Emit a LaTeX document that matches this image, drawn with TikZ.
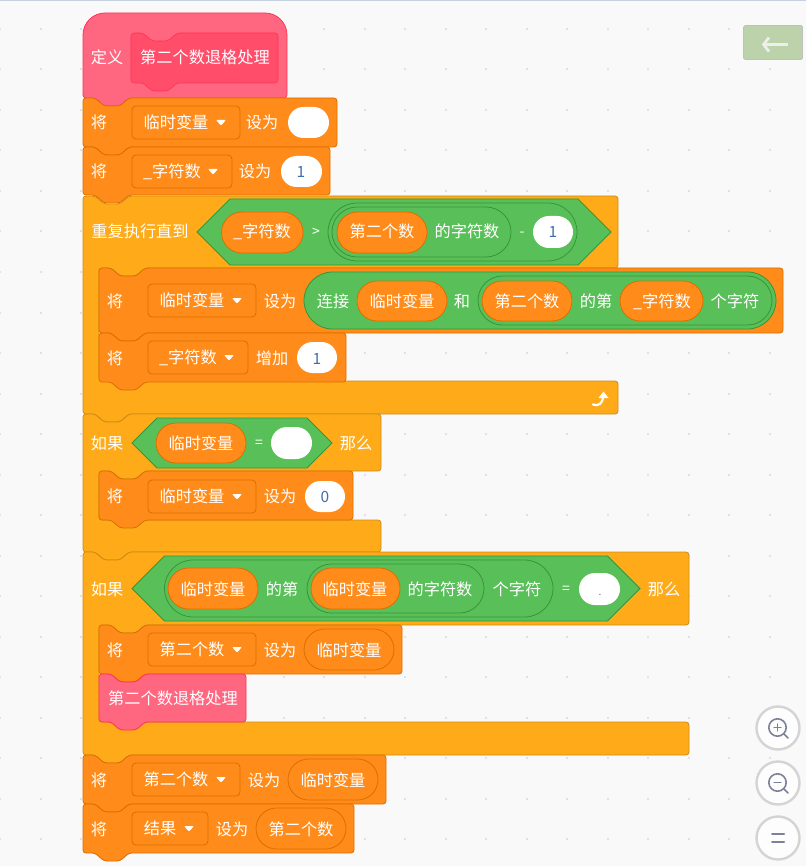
\documentclass[tikz,border=0pt]{standalone}
\usepackage{fontspec}
\setmainfont{Noto Sans CJK SC}
\definecolor{bg}{HTML}{F9F9F9}
\definecolor{gridc}{HTML}{E2E2E2}
\definecolor{topc}{HTML}{C6D2E2}
\definecolor{looksf}{HTML}{FF8C1A}
\definecolor{looksd}{HTML}{DB6E00}
\definecolor{ctrlf}{HTML}{FFAB19}
\definecolor{ctrld}{HTML}{CF8B17}
\definecolor{oprf}{HTML}{59C059}
\definecolor{oprd}{HTML}{389438}
\definecolor{pinkf}{HTML}{FF6680}
\definecolor{pinkd}{HTML}{FF3355}
\definecolor{pinki}{HTML}{FF4D6A}
\definecolor{numc}{HTML}{3F6FA8}
\definecolor{iconc}{HTML}{7C8098}
\definecolor{backf}{HTML}{BBD2AB}
\definecolor{backa}{HTML}{EDEFEA}
\newcounter{nn}
\tikzset{
  x=1pt,y=-1pt,
  lbl/.style={text=white,font=\fontsize{16.2}{17}\selectfont,inner sep=0pt,text height=14pt,text depth=2pt,anchor=center},
  numl/.style={lbl,text=numc,font=\fontsize{15.5}{16}\selectfont},
  oplbl/.style={lbl,font=\fontsize{14}{16}\selectfont,text height=11pt,text depth=2pt},
  varb/.style={fill=looksf,draw=looksd,line width=.8pt},
  setb/.style={fill=looksf,draw=looksd,line width=.8pt},
  ctrlb/.style={fill=ctrlf,draw=ctrld,line width=.8pt},
  oprb/.style={fill=oprf,draw=oprd,line width=.8pt},
  pinkb/.style={fill=pinkf,draw=pinkd,line width=.8pt},
  pinkin/.style={fill=pinki,draw=pinkd,line width=.6pt},
  ddb/.style={fill=looksf,draw=looksd,line width=.8pt,rounded corners=4pt},
  inb/.style={fill=white,draw=none},
  zoomb/.style={fill=white!60!bg,draw=black!17,line width=2.4pt},
  zicon/.style={draw=iconc,line width=1.6pt,line cap=round},
}
\newcommand\lb[3]{\node[lbl] (l\arabic{nn}) at (#1,#2) {#3};\stepcounter{nn}}
\newcommand\oplb[3]{\node[oplbl] (l\arabic{nn}) at (#1,#2) {#3};\stepcounter{nn}}
\newcommand\nm[3]{\node[numl] (l\arabic{nn}) at (#1,#2) {#3};\stepcounter{nn}}
% stack block: style x1 y1 x2 y2
\newcommand\stk[5]{\draw[#1,rounded corners=3pt]
  (#2,#3) -- ({#2+12},#3) -- ({#2+21},{#3+8}) -- ({#2+37},{#3+8}) -- ({#2+46},#3) -- (#4,#3)
  -- (#4,#5) -- ({#2+46},#5) -- ({#2+37},{#5+8}) -- ({#2+21},{#5+8}) -- ({#2+12},#5) -- (#2,#5) -- cycle;}
% C block: style x1 y1 x2 y2 y3 x3 y4
\newcommand\cblk[8]{\draw[#1,rounded corners=3pt]
  (#2,#3) -- ({#2+12},#3) -- ({#2+21},{#3+8}) -- ({#2+37},{#3+8}) -- ({#2+46},#3) -- (#4,#3)
  -- (#4,#5) -- ({#2+62},#5) -- ({#2+53},{#5+8}) -- ({#2+37},{#5+8}) -- ({#2+28},#5) -- ({#2+16},#5)
  -- ({#2+16},#6) -- (#7,#6) -- (#7,#8) -- ({#2+46},#8) -- ({#2+37},{#8+8}) -- ({#2+21},{#8+8}) -- ({#2+12},#8) -- (#2,#8) -- cycle;}
% pill: style x1 y1 x2 y2
\newcommand\pill[5]{\pgfmathsetmacro\rr{(#5-#3)/2}\draw[#1,rounded corners=\rr pt] (#2,#3) rectangle (#4,#5);}
% hexagon: x1 y1 x2 y2
\newcommand\hexa[4]{\pgfmathsetmacro\hw{(#4-#2)/2}\draw[oprb,line join=miter]
  (#1,{(#2+#4)/2}) -- ({#1+\hw},#2) -- ({#3-\hw},#2) -- (#3,{(#2+#4)/2}) -- ({#3-\hw},#4) -- ({#1+\hw},#4) -- cycle;}
% dropdown: x1 y1 x2 text textx caretx
\newcommand\dd[6]{\draw[ddb] (#1,#2) rectangle (#3,{#2+33});\lb{#5}{{#2+16.5}}{#4}
  \fill[white,rounded corners=1pt] ({#6-5},{#2+14}) -- ({#6+5},{#2+14}) -- (#6,{#2+19.5}) -- cycle;}
\begin{document}
\begin{tikzpicture}
\useasboundingbox (0,0) rectangle (806,866);
\fill[bg] (0,0) rectangle (806,866);
\fill[topc] (0,0) rectangle (806,1.2);
\foreach \i in {0,...,19}{\foreach \j in {0,...,20}{
  \fill[gridc] ({\i*40.5-1},{29+\j*40.5-1}) rectangle ({\i*40.5+1},{29+\j*40.5+1});}}
% hat
\draw[pinkb] (83,98) [rounded corners=22pt] -- (83,13) -- (287,13) [rounded corners=3pt] -- (287,98)
  -- (129,98) -- (120,106) -- (104,106) -- (95,98) -- (83,98) -- cycle;
\stk{pinkin}{131}{33}{278}{83}
\lb{107}{58}{定义}
\lb{205}{58}{第二个数退格处理}
% set 1
\stk{setb}{83}{98}{337}{147}
\lb{99}{123}{将}
\dd{132}{106}{240}{临时变量}{176}{221}
\lb{262}{123}{设为}
\pill{inb}{288}{107}{329}{138}
% set 2
\stk{setb}{83}{147}{330}{195}
\lb{99}{172}{将}
\dd{132}{155}{232}{\_字符数}{172}{213}
\lb{255}{172}{设为}
\pill{inb}{281}{156}{322}{187}
\nm{301}{172}{1}
% repeat until
\cblk{ctrlb}{83}{196}{618}{268}{381}{618}{414}
\lb{140}{232}{重复执行直到}
\hexa{197}{199}{611}{265}
\pill{varb}{221.5}{212}{303}{253}
\lb{262}{232}{\_字符数}
\oplb{316}{232}{>}
\pill{oprb}{328}{203}{577}{261}
\pill{oprb}{332}{207}{511}{257}
\pill{varb}{337}{212}{427}{253}
\lb{382}{232}{第二个数}
\lb{467}{232}{的字符数}
\oplb{522}{232}{-}
\pill{inb}{533}{216}{573}{248}
\nm{553}{232}{1}
% set inside
\stk{setb}{99}{268}{783}{333}
\lb{115}{301}{将}
\dd{148}{284}{256}{临时变量}{192}{237}
\lb{280}{301}{设为}
\pill{oprb}{304}{272}{776}{329}
\lb{333}{301}{连接}
\pill{varb}{357}{281}{447}{321}
\lb{402}{301}{临时变量}
\lb{462}{301}{和}
\pill{oprb}{478}{276}{772}{325}
\pill{varb}{482}{281}{572}{321}
\lb{527}{301}{第二个数}
\lb{596}{301}{的第}
\pill{varb}{620}{281}{703}{321}
\lb{662}{301}{\_字符数}
\lb{735}{301}{个字符}
% change
\stk{setb}{99}{333}{346}{382}
\lb{115}{358}{将}
\dd{148}{341}{248}{\_字符数}{188}{229}
\lb{272}{358}{增加}
\pill{inb}{297}{342}{337}{373}
\nm{317}{358}{1}
\draw[white,line width=2.2pt,line cap=round] (593,404.5) .. controls (598,406.5) and (603,404) .. (603,396);
\fill[white] (598.5,398) -- (603.5,391.5) -- (608.5,398) -- cycle;
% if 1
\cblk{ctrlb}{83}{414}{381}{471}{520}{381}{552}
\lb{107}{443}{如果}
\hexa{132}{418}{332}{468}
\pill{varb}{156}{423}{246}{463}
\lb{201}{443}{临时变量}
\oplb{259}{443}{=}
\pill{inb}{271}{427}{312}{459}
\lb{356}{443}{那么}
\stk{setb}{99}{471}{353}{520}
\lb{115}{496}{将}
\dd{148}{480}{256}{临时变量}{192}{237}
\lb{280}{496}{设为}
\pill{inb}{305}{481}{345}{512}
\nm{325}{496}{0}
% if 2
\cblk{ctrlb}{83}{552}{689}{625}{722}{689}{755}
\lb{107}{589}{如果}
\hexa{132}{556}{640}{621}
\pill{oprb}{164.5}{560}{553}{617}
\pill{oprb}{307}{564}{484}{613}
\pill{varb}{168}{568}{258}{609}
\lb{213}{589}{临时变量}
\lb{282}{589}{的第}
\pill{varb}{311}{568}{400}{609}
\lb{355}{589}{临时变量}
\lb{440}{589}{的字符数}
\lb{517}{589}{个字符}
\oplb{566}{589}{=}
\pill{inb}{579}{573}{620}{605}
\nm{600}{589}{\fontsize{10}{10}\selectfont .}
\lb{664}{589}{那么}
\stk{setb}{99}{625}{402}{674}
\lb{115}{650}{将}
\dd{148}{633}{256}{第二个数}{192}{237}
\lb{280}{650}{设为}
\pill{varb}{304}{629}{394}{670}
\lb{349}{650}{临时变量}
\stk{pinkb}{99}{674}{246}{722}
\lb{173}{698}{第二个数退格处理}
% last two sets
\stk{setb}{83}{755}{386}{804}
\lb{99}{780}{将}
\dd{132}{763}{240}{第二个数}{176}{221}
\lb{264}{780}{设为}
\pill{varb}{288}{759}{378}{800}
\lb{333}{780}{临时变量}
\stk{setb}{83}{804}{354}{853}
\lb{99}{829}{将}
\dd{132}{812}{208}{结果}{160}{189}
\lb{232}{829}{设为}
\pill{varb}{256}{808}{346}{849}
\lb{301}{829}{第二个数}
% back button
\draw[fill=backf,draw=black!25,line width=.7pt,rounded corners=1.5pt] (743.5,25.5) rectangle (802.5,59.5);
\draw[backa,line width=2.8pt] (763,44.5) -- (788,44.5);
\draw[backa,line width=2.8pt] (769,37.5) -- (763.5,44.5) -- (769,51.5);
% zoom buttons
\draw[zoomb] (778,728) circle (21.5);
\draw[zicon] (777.5,727.5) circle (8.7);
\draw[zicon] (784,734) -- (788,738);
\draw[zicon,line width=1.3pt] (774,727.5) -- (781,727.5) (777.5,724) -- (777.5,731);
\draw[zoomb] (778,783) circle (21.5);
\draw[zicon] (777.5,782.5) circle (8.7);
\draw[zicon] (784,789) -- (788,793);
\draw[zicon,line width=1.3pt] (774,782.5) -- (781,782.5);
\draw[zoomb] (778,838) circle (21.5);
\draw[zicon,line width=2pt] (772,833.5) -- (784,833.5) (772,841.5) -- (784,841.5);
\end{tikzpicture}
\end{document}
